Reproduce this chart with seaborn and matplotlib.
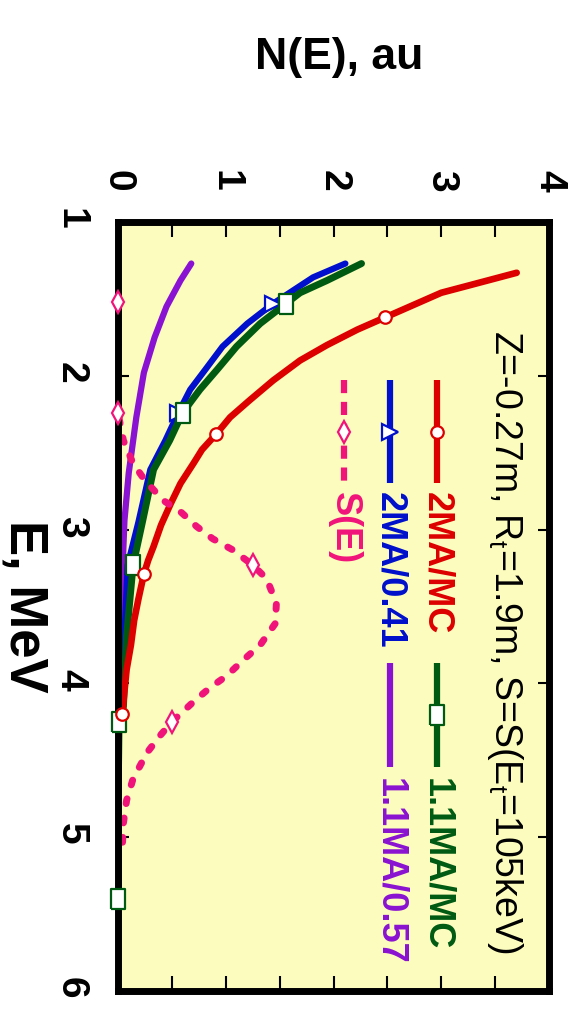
import matplotlib
matplotlib.use("Agg")
import matplotlib.pyplot as plt
import numpy as np
import pandas as pd
import seaborn as sns

# ---- data: energy E (MeV) and spectrum N(E) (au) ----
E_red = [1.33, 1.41, 1.46, 1.54, 1.62, 1.70, 1.80, 1.90, 2.03, 2.16, 2.27, 2.38, 2.48,
         2.57, 2.70, 2.83, 2.97, 3.11, 3.20, 3.29, 3.45, 3.59, 3.75, 3.91, 4.05, 4.20]
N_red = [3.70, 3.27, 3.00, 2.74, 2.48, 2.22, 1.94, 1.69, 1.44, 1.22, 1.04, 0.91, 0.78,
         0.70, 0.58, 0.49, 0.40, 0.33, 0.28, 0.24, 0.19, 0.15, 0.12, 0.08, 0.06, 0.04]
mk_red = [4, 11, 19, 25]

E_green = [1.27, 1.38, 1.46, 1.53, 1.66, 1.81, 1.96, 2.09, 2.24, 2.42, 2.61, 2.94,
           3.23, 3.69, 4.15, 4.25, 4.80, 5.40]
N_green = [2.26, 1.94, 1.69, 1.56, 1.32, 1.10, 0.92, 0.76, 0.60, 0.48, 0.33, 0.23,
           0.14, 0.08, 0.05, 0.01, 0.0, 0.0]
mk_green = [3, 8, 12, 15, 17]

E_blue = [1.27, 1.36, 1.53, 1.66, 1.81, 1.96, 2.09, 2.24, 2.42, 2.61, 2.95, 3.23,
          3.69, 4.15]
N_blue = [2.11, 1.81, 1.44, 1.20, 0.97, 0.81, 0.67, 0.56, 0.44, 0.30, 0.19, 0.09,
          0.06, 0.04]
mk_blue = [2, 7]

E_purple = [1.27, 1.38, 1.55, 1.75, 1.98, 2.27, 2.63, 2.94, 3.46, 4.00]
N_purple = [0.68, 0.58, 0.45, 0.34, 0.24, 0.17, 0.10, 0.06, 0.03, 0.01]

E_src = [1.52, 2.24, 2.42, 2.57, 2.68, 2.81, 2.89, 2.98, 3.06, 3.13, 3.23, 3.32, 3.48,
         3.61, 3.75, 3.85, 3.95, 4.03, 4.12, 4.25, 4.34, 4.45, 4.62, 4.76, 4.91, 5.07]
N_src = [0.0, 0.0, 0.05, 0.14, 0.25, 0.42, 0.59, 0.73, 0.88, 1.06, 1.25, 1.38, 1.47,
         1.46, 1.32, 1.16, 1.01, 0.85, 0.70, 0.50, 0.39, 0.27, 0.14, 0.08, 0.05, 0.04]
mk_src = [0, 1, 10, 19]

N_ticks = [0, 1, 2, 3, 4]
N_minor = [0.5, 1.5, 2.5, 3.5]
E_ticks = [1, 2, 3, 4, 5, 6]

labels = ["2MA/MC", "2MA/0.41", "S(E)", "1.1MA/MC", "1.1MA/0.57"]
note = r"Z=-0.27m, R$_\mathregular{t}$=1.9m, S=S(E$_\mathregular{t}$=105keV)"

# ---- style ----
sns.set_style("white")
plt.rcParams["font.family"] = ["Liberation Sans", "DejaVu Sans"]
plt.rcParams["mathtext.fontset"] = "custom"
plt.rcParams["mathtext.rm"] = "Liberation Sans"
for key in ("text.color", "axes.labelcolor", "xtick.color", "ytick.color"):
    plt.rcParams[key] = "black"

RED = "#DD0000"
GREEN = "#005A12"
BLUE = "#0010CC"
PURPLE = "#8A12D2"
PINK = "#F0147A"
BG = "#FCFCBE"

tall_square = [(-0.72, -1), (0.72, -1), (0.72, 1), (-0.72, 1), (-0.72, -1)]

fig = plt.figure(figsize=(5.83, 10.11), dpi=100)
ax = fig.add_axes([0.2024, 0.0198, 0.7393, 0.7606])
ax.set_facecolor(BG)

series = [
    (E_purple, N_purple, PURPLE, None, None, 8, 4.5),
    (E_blue, N_blue, BLUE, ">", mk_blue, 11, 4.5),
    (E_green, N_green, GREEN, tall_square, mk_green, 14, 5.0),
    (E_red, N_red, RED, "o", mk_red, 9, 4.8),
]

for E, N, col, mk, every, ms, lw in series:
    df = pd.DataFrame({"N": N, "E": E})
    sns.lineplot(data=df, x="N", y="E", sort=False, estimator=None, ax=ax,
                 color=col, lw=lw, solid_capstyle="round", solid_joinstyle="round",
                 zorder=2)
    if mk is not None:
        sns.lineplot(data=df, x="N", y="E", sort=False, estimator=None, ax=ax,
                     color=col, linestyle="none", marker=mk, markevery=every,
                     markersize=ms, markerfacecolor="white", markeredgecolor=col,
                     markeredgewidth=1.6, zorder=6, clip_on=False)

df_src = pd.DataFrame({"N": N_src, "E": E_src})
sns.lineplot(data=df_src, x="N", y="E", sort=False, estimator=None, ax=ax,
             color=PINK, lw=5.0, linestyle=(0, (0.7, 2.1)), dash_capstyle="round",
             zorder=2.2)
sns.lineplot(data=df_src, x="N", y="E", sort=False, estimator=None, ax=ax,
             color=PINK, linestyle="none", marker="d", markevery=mk_src,
             markersize=11, markerfacecolor="white", markeredgecolor=PINK,
             markeredgewidth=1.6, zorder=6, clip_on=False)

# ---- axes ----
ax.set_xlim(0, 4)
ax.set_ylim(6, 1)
ax.set_xlabel("")
ax.set_ylabel("")
ax.xaxis.tick_top()
ax.set_xticks(N_ticks)
ax.set_xticklabels([str(t) for t in N_ticks], fontsize=28, fontweight="bold")
ax.set_xticks(N_minor, minor=True)
ax.set_yticks(E_ticks)
ax.set_yticklabels([str(t) for t in E_ticks], fontsize=28, fontweight="bold")
ax.tick_params(axis="x", which="both", direction="in", length=11, width=1.5,
               top=True, bottom=True, labeltop=True, labelbottom=False,
               labelrotation=-90, pad=22, color="black", labelcolor="black")
ax.tick_params(axis="y", which="both", direction="in", length=8, width=1.5,
               left=True, right=True, labelrotation=-90, pad=21, color="black",
               labelcolor="black")
for sp in ax.spines.values():
    sp.set_visible(True)
    sp.set_color("black")
    sp.set_linewidth(5)
    sp.set_zorder(4)

fig.text(339 / 583, 1 - 57 / 1011, "N(E), au", ha="center", va="center",
         fontsize=32, fontweight="bold", color="black",
         family=["Liberation Sans Narrow", "Liberation Sans", "DejaVu Sans"])
fig.text(24 / 583, 1 - 606 / 1011, "E, MeV", ha="center", va="center",
         rotation=-90, fontsize=38, fontweight="bold", color="black")

# ---- legend (drawn in axes fraction, reading top to bottom) ----
def fx(px):
    return (px - 118) / 431


def fy(py):
    return 1 - (py - 222) / 769


legend_rows = [
    (437, 380, 483, 432, 492, RED, "-", "o", 9, labels[0]),
    (390, 380, 483, 432, 492, BLUE, "-", ">", 11, labels[1]),
    (344, 380, 483, 432, 492, PINK, (0, (2.1, 1.4)), "d", 11, labels[2]),
    (437, 663, 767, 715, 778, GREEN, "-", tall_square, 14, labels[3]),
    (390, 663, 767, None, 778, PURPLE, "-", None, 0, labels[4]),
]
for x, y0, y1, ym, yt, col, ls, mk, ms, lab in legend_rows:
    ax.plot([fx(x), fx(x)], [fy(y0), fy(y1)], transform=ax.transAxes, color=col,
            lw=4.5, linestyle=ls, solid_capstyle="butt", dash_capstyle="butt",
            zorder=5, clip_on=False)
    if mk is not None:
        ax.plot([fx(x)], [fy(ym)], transform=ax.transAxes, marker=mk, markersize=ms,
                markerfacecolor="white", markeredgecolor=col, markeredgewidth=1.6,
                zorder=6, clip_on=False)
    ax.text(fx(x), fy(yt), lab, transform=ax.transAxes, rotation=-90, ha="center",
            va="top", color=col, fontsize=26, fontweight="bold", zorder=6)

ax.text(fx(505), fy(330), note, transform=ax.transAxes, rotation=-90,
        ha="center", va="top", color="black", fontsize=27, zorder=6)

fig.savefig("out.png", dpi=100)
